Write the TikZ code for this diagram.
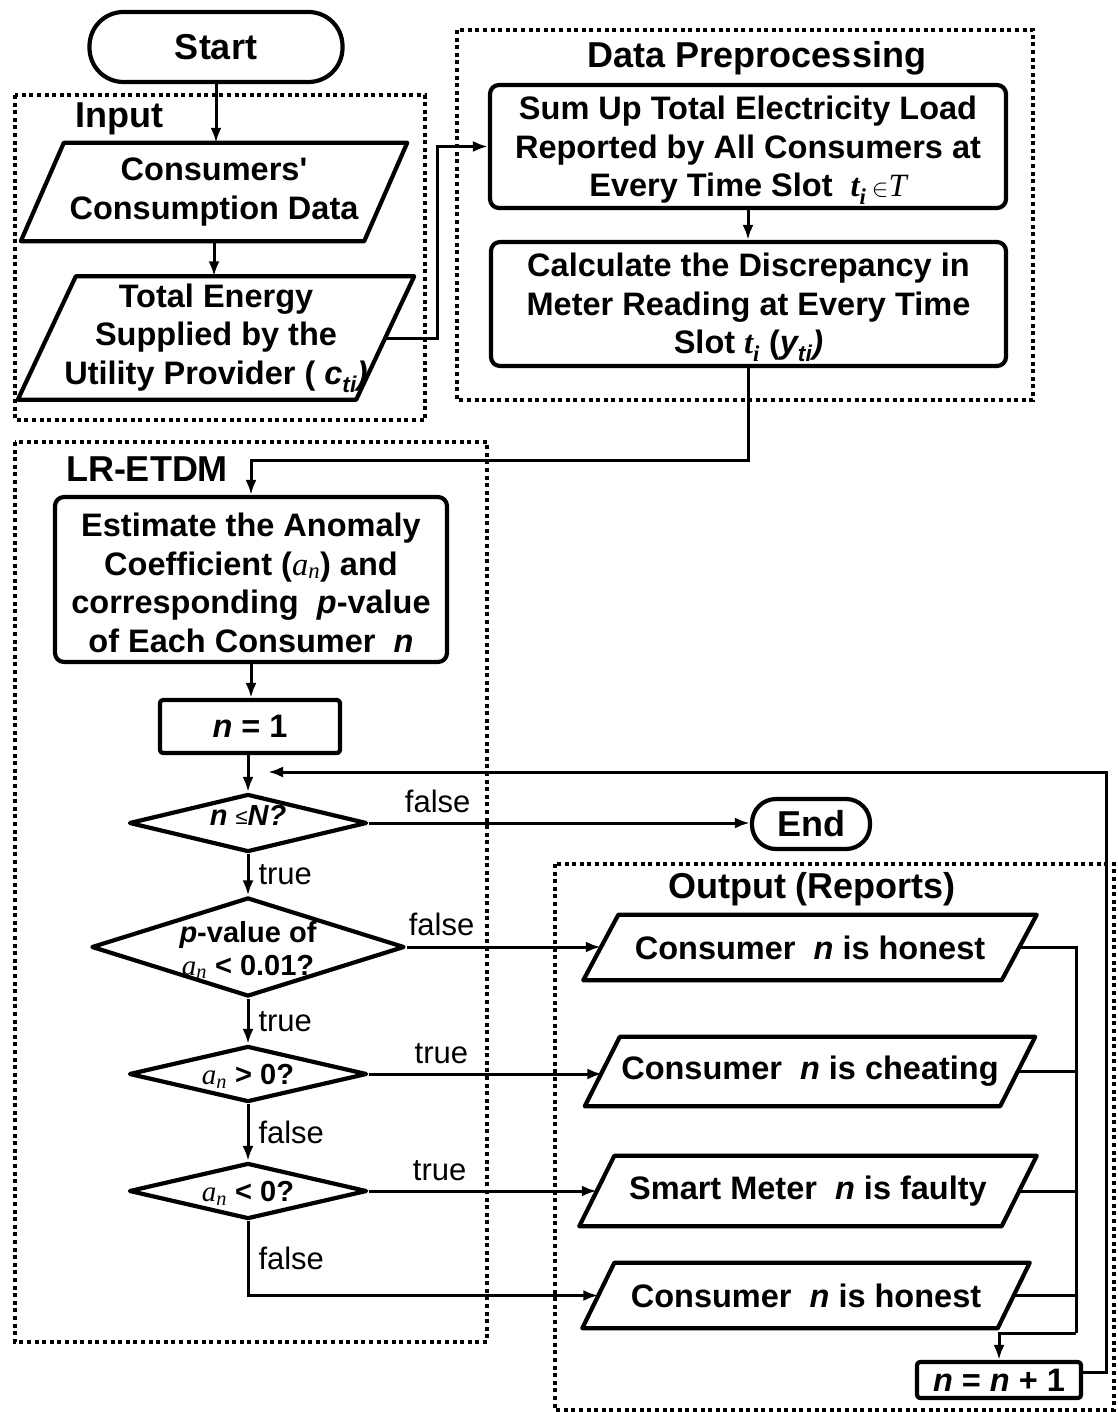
\documentclass[tikz,border=0pt]{standalone}
\usepackage{fontspec}
\setmainfont{Liberation Sans}[Ligatures=TeXOff]
\newfontfamily\tms{Liberation Serif}
\usetikzlibrary{arrows.meta,calc,shapes.geometric}

% bold italic sans variable
\newcommand\bvar[1]{{\bfseries\itshape #1}}
% anomaly coefficient a_n in serif italic
\newcommand\acoef{{\tms\mdseries\itshape a\textsubscript{n}}}
% time slot t_i in serif bold italic
\newcommand\tslot{{\tms\bfseries\itshape t\textsubscript{i}}}

\tikzset{
  body/.style={font=\fontsize{32.5}{38.5}\selectfont\bfseries, align=center, inner sep=0pt},
  head/.style={font=\fontsize{36}{40}\selectfont\bfseries, inner sep=0pt},
  lbl/.style={font=\fontsize{31}{34}\selectfont, inner sep=0pt},
  dtext/.style={font=\fontsize{29}{33}\selectfont\bfseries, align=center, inner sep=0pt},
  frame/.style={draw, line width=4.2pt, line join=round},
  procbox/.style={frame, rounded corners=9pt, body},
  plainbox/.style={frame, rounded corners=3pt, body},
  term/.style={frame, head},
  dia/.style={frame, diamond, inner sep=0pt},
  dotbox/.style={draw, line width=4.4pt, dash pattern=on 4pt off 3.6pt},
  conn/.style={line width=3pt, -{Latex[length=15pt,width=11pt]}},
  wire/.style={line width=3pt},
}

% parallelogram drawn around a text node: #1 node, #2 half the slant
\newcommand\paraframe[2]{%
  \draw[frame] ($(#1.south west)+(-#2,0)$) -- ($(#1.north west)+(#2,0)$)
    -- ($(#1.north east)+(#2,0)$) -- ($(#1.south east)+(-#2,0)$) -- cycle;}

\begin{document}
\begin{tikzpicture}[x=1pt,y=-1pt]
\fill[white] (0,0) rectangle (1117,1412);
\useasboundingbox (0,0) rectangle (1117,1412);

% ---------- group frames ----------
\draw[dotbox] (15,95) rectangle (425,420);
\draw[dotbox] (457,30) rectangle (1033,400);
\draw[dotbox] (15,442) rectangle (487,1342);
\draw[dotbox] (555,864) rectangle (1114,1410);

\node[head] (tinput) at (119,119) {Input};
\node[head] (tprep) at (757,58) {Data Preprocessing};
\node[head] (tlr) at (147,469) {LR-ETDM};
\node[head] (tout) at (812,889) {Output (Reports)};

% ---------- input ----------
\node[term, minimum width=253, minimum height=70, rounded corners=34] (start) at (216,47) {Start};

\node[body, minimum width=343, minimum height=98] (p1) at (214,192)
  {Consumers'\\Consumption Data};
\paraframe{p1}{21.5}

\node[body, minimum width=338, minimum height=123] (p2) at (216,338)
  {Total Energy\\Supplied by the\\Utility Provider ( \bvar{c}\textsubscript{\bvar{ti}}\textit{)}};
\paraframe{p2}{29}

% ---------- preprocessing ----------
\node[procbox, minimum width=516, minimum height=123] (sum) at (748,146.5)
  {\rule{0pt}{31pt}Sum Up Total Electricity Load\\Reported by All Consumers at\\Every Time Slot\ \ \tslot\,$\in${\tms\mdseries\itshape T}};
\node[procbox, minimum width=515, minimum height=124] (calc) at (748.5,304)
  {\rule{0pt}{31pt}Calculate the Discrepancy in\\Meter Reading at Every Time\\Slot \tslot\ (\bvar{y}\textsubscript{\itshape ti}\textit{)}};

% ---------- detection ----------
\node[procbox, minimum width=392, minimum height=165] (est) at (251,579.5)
  {\rule{0pt}{30pt}Estimate the Anomaly\\Coefficient (\acoef) and\\corresponding\ \ \bvar{p}-value\\of Each Consumer\ \ \bvar{n}};
\node[plainbox, minimum width=180, minimum height=53] (init) at (250,726.5) {\bvar{n} = 1};

\node[dia, minimum width=238, minimum height=58] (d1) at (248,823) {};
\node[dtext] (d1t) at (248,815) {\bvar{n} \raisebox{1pt}{\mdseries\fontsize{22}{22}\selectfont ≤}\bvar{N?}};
\node[dia, minimum width=313, minimum height=99] (d2) at (248,947) {};
\node[dtext] (d2t) at (248,950) {\bvar{p}-value of\\\acoef\ {<} 0.01?};
\node[dia, minimum width=238, minimum height=56] (d3) at (248,1074) {};
\node[dtext] (d3t) at (248,1076) {\acoef\ > 0?};
\node[dia, minimum width=238, minimum height=56] (d4) at (248,1191) {};
\node[dtext] (d4t) at (248,1193) {\acoef\ {<} 0?};

\node[term, minimum width=118, minimum height=50, rounded corners=24] (end) at (811,824) {End};

% ---------- reports ----------
\node[body, minimum width=418, minimum height=65] (o1) at (810,947.5) {Consumer\ \ \bvar{n} is honest};
\paraframe{o1}{17.5}
\node[body, minimum width=415, minimum height=69] (o2) at (810,1071.5) {Consumer\ \ \bvar{n} is cheating};
\paraframe{o2}{17.5}
\node[body, minimum width=422, minimum height=70] (o3) at (808,1191) {Smart Meter\ \ \bvar{n} is faulty};
\paraframe{o3}{17.5}
\node[body, minimum width=415, minimum height=65] (o4) at (806,1295.5) {Consumer\ \ \bvar{n} is honest};
\paraframe{o4}{16}

\node[plainbox, minimum width=164, minimum height=36] (inc) at (999,1380) {\bvar{n} = \bvar{n} + 1};

% ---------- connectors ----------
\draw[conn] (start.south) -- (start.south |- p1.north);
\draw[conn] (p1.south) -- (p1.south |- p2.north);
\draw[conn] (p2.east) -- ++(52,0) |- (sum.west);
\draw[conn] (sum.south) -- (sum.south |- calc.north);
\draw[conn] (calc.south) |- ($(est.north)+(0,-34)$) -- (est.north);
\draw[conn] (est.south) -- (est.south |- init.north);
\draw[conn] (init.south) -- (init.south -| d1.north) -- (d1.north);

\draw[conn] (d1.east) -- (d1.east -| end.west) node[lbl, pos=0.18, above=9pt] (lf1) {false};
\draw[conn] (d1.south) -- (d2.north) node[lbl, midway, right=9pt] (lt1) {true};
\draw[conn] (d2.east) -- (d2.east -| o1.west) node[lbl, pos=0.18, above=10pt] (lf2) {false};
\draw[conn] (d2.south) -- (d3.north) node[lbl, midway, right=9pt] (lt2) {true};
\draw[conn] (d3.east) -- (d3.east -| o2.west) node[lbl, pos=0.31, above=9pt] (lt3) {true};
\draw[conn] (d3.south) -- (d4.north) node[lbl, midway, right=9pt] (lf3) {false};
\draw[conn] (d4.east) -- (d4.east -| o3.west) node[lbl, pos=0.31, above=9pt] (lt4) {true};
\draw[conn] (d4.south) |- (o4.west) node[lbl, pos=0.25, right=9pt] (lf4) {false};

% collector bus of the reports
\coordinate (busTop) at (1076,947.5);
\coordinate (busBot) at (1076,1333);
\draw[wire] (o1.east) -- (busTop) -- (busBot);
\draw[wire] (o2.east) -- (o2.east -| busTop);
\draw[wire] (o3.east) -- (o3.east -| busTop);
\draw[wire] (o4.east) -- (o4.east -| busTop);
\draw[conn] (busBot) -| (inc.north);

% loop back to the test n <= N
\coordinate (loopIn) at (268,772);
\draw[conn] ($(inc.east)+(0,-8)$) -- ++(23,0) |- (loopIn);
\end{tikzpicture}
\end{document}
